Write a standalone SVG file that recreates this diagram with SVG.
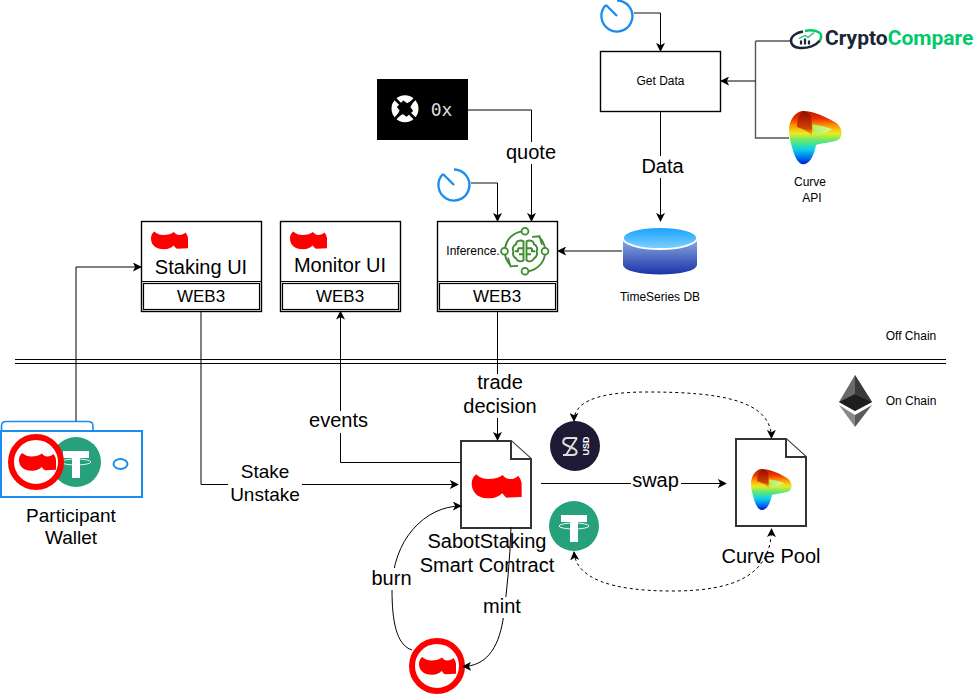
<svg xmlns="http://www.w3.org/2000/svg" width="974" height="694" viewBox="0 0 974 694">
<style>
text{font-family:"Liberation Sans",Arial,sans-serif;fill:#000;text-anchor:middle}
.s12{font-size:12px}.s19{font-size:19px}.s20{font-size:20px}.w3{font-size:17px}
.box{fill:#fff;stroke:#000;stroke-width:1.4}
.inner{fill:none;stroke:#000;stroke-width:1.2}
.doc{fill:#fff;stroke:#333;stroke-width:2}
.con{fill:none;stroke:#000;stroke-width:1;marker-end:url(#a)}
.plain{fill:none;stroke:#000;stroke-width:1}
.grey{fill:none;stroke:#555;stroke-width:1.4}
.dash{fill:none;stroke:#000;stroke-width:1;stroke-dasharray:3 3;marker-start:url(#a2);marker-end:url(#a)}
.lbl{fill:#fff;stroke:none}
.clk{fill:none;stroke:#1a8cf0;stroke-width:2.300}
.ring{fill:#fff;stroke:#f00;stroke-width:6}
</style>
<defs>
<marker id="a" viewBox="0 0 10 10" refX="9" refY="5" markerWidth="9" markerHeight="9" markerUnits="userSpaceOnUse" orient="auto"><path d="M0 0L10 5L0 10L2.500 5Z" fill="#000"/></marker>
<marker id="a2" viewBox="0 0 10 10" refX="9" refY="5" markerWidth="9" markerHeight="9" markerUnits="userSpaceOnUse" orient="auto-start-reverse"><path d="M0 0L10 5L0 10L2.500 5Z" fill="#000"/></marker>
<linearGradient id="cg" x1="0" y1="0" x2="0" y2="1"><stop offset="0" stop-color="#c01800"/><stop offset=".14" stop-color="#e83000"/><stop offset=".28" stop-color="#ff9a00"/><stop offset=".42" stop-color="#e8ec20"/><stop offset=".56" stop-color="#60e870"/><stop offset=".72" stop-color="#10d0e8"/><stop offset=".88" stop-color="#0070f0"/><stop offset="1" stop-color="#0018d0"/></linearGradient>
<linearGradient id="cg2" x1="0" y1="0" x2="1" y2="0"><stop offset="0" stop-color="#b0ee60"/><stop offset="1" stop-color="#d8f890"/></linearGradient>
<linearGradient id="cgf" x1="0" y1="0" x2="0" y2="1"><stop offset="0" stop-color="#8a0c00"/><stop offset=".7" stop-color="#c83000"/><stop offset="1" stop-color="#e86000" stop-opacity=".2"/></linearGradient>
<linearGradient id="dbTop" x1="0" y1="0" x2="0" y2="1"><stop offset="0" stop-color="#14a0ff"/><stop offset="1" stop-color="#80d2ff"/></linearGradient>
<linearGradient id="dbSide" x1="0" y1="0" x2="0" y2="1"><stop offset="0" stop-color="#90aee4"/><stop offset="1" stop-color="#1a34a8"/></linearGradient>
<path id="sabot" d="M3.200 0C6 2.500 9 3.500 12.300 3.500C17 3.500 20.500 2.500 22.900 .5C24.500 2.500 26 3.500 28.300 3.500C31 3.500 33 2.500 34.500 1C36 3 36.800 5 37 6.700L37 16.800L25.900 17.300C24.500 16.500 23.500 15 22.600 14C20 16.500 17 17.800 13.500 17.800C8 17.800 4.500 16.500 2.400 13.800C.5 11.500 0 9 0 6.400C0 4 1.500 1.500 3.200 0Z" fill="#f00"/>
<g id="curve">
<path d="M14.300 0C24 0 38 6 47.700 12.300C51 15 52.700 19 52.700 22.300C52.700 25 51 27.500 49 29C42 32 32 32 27 34C26.500 37 26 39 25 41.500C23 48 19 53.300 14.300 53.300C9 53.300 5.500 45 3.300 37.300C1.500 31 0 25 0 19C0 13 2 8.500 4.300 5.700C7 2.500 10 0 14.300 0Z" fill="url(#cg)"/>
<path d="M23 13.500C30 14 38 16 43.500 18.500C38 21.500 31 23.500 26.500 24.700C25 21 23.800 17 23 13.500Z" fill="url(#cg2)"/>
<path d="M14.300 0C18 1 20.500 2.500 22 5C23 11 23 18 23 25C20 21 15 18 8 16C8 9 10 3 14.300 0Z" fill="url(#cgf)" opacity=".85"/>
</g>
<g id="tether">
<circle r="25" fill="#26a17b"/>
<path d="M-13-11H13V-4H4V16H-4V-4H-13Z" fill="#fff"/>
<ellipse rx="15" ry="3" fill="none" stroke="#fff" stroke-width=".9"/>
</g>
<g id="clock">
<path class="clk" d="M0-15.500A15.500 15.500 0 1 1-11-11"/>
<path class="clk" d="M-11-11L0 0"/>
</g>
</defs>
<rect width="974" height="694" fill="#fff"/>

<g id="chain-divider">
<path d="M15 359.500H946M15 363.500H946" stroke="#000" stroke-width="1.200" fill="none"/>
<text class="s12" x="911" y="340">Off Chain</text>
<text class="s12" x="911" y="405">On Chain</text>
</g>

<g id="ethereum">
<path d="M855 375L839 402L855 411L872 402Z" fill="#6a6a6a"/>
<path d="M855 394L839 402L855 411L872 402Z" fill="#1e1e1e"/>
<path d="M855 375V394L872 402Z" fill="#3a3a3a"/>
<path d="M839 405L855 427L855 415Z" fill="#8a8a8a"/>
<path d="M872 405L855 427L855 415Z" fill="#5a5a5a"/>
</g>

<g id="staking-ui">
<rect class="box" x="141.500" y="221.500" width="120" height="90"/>
<path class="plain" d="M141.500 281.500H261.500"/>
<rect class="inner" x="143.500" y="283.500" width="116" height="26"/>
<use href="#sabot" x="151" y="231.500"/>
<text class="s20" x="201" y="274">Staking UI</text>
<text class="w3" x="201" y="302">WEB3</text>
</g>

<g id="monitor-ui">
<rect class="box" x="280.500" y="221.500" width="120" height="90"/>
<path class="plain" d="M280.500 281.500H400.500"/>
<rect class="inner" x="282.500" y="283.500" width="116" height="26"/>
<use href="#sabot" x="290" y="231.500"/>
<text class="s20" x="340" y="272">Monitor UI</text>
<text class="w3" x="340" y="302">WEB3</text>
</g>

<g id="inference">
<rect class="box" x="437.500" y="221.500" width="120" height="90"/>
<path class="plain" d="M437.500 281.500H557.500"/>
<rect class="inner" x="439.500" y="283.500" width="116" height="26"/>
<text class="s12" x="473" y="255">Inference.</text>
<text class="w3" x="497" y="302">WEB3</text>
<g id="brain-icon" transform="translate(525,251.300)" fill="none" stroke="#3d8c2e" stroke-width="1.800">
<path d="M-3-20A20 20 0 0 0-20-3M-20 3A20 20 0 0 0-15 13.500M3 20A20 20 0 0 0 20 3M20-3A20 20 0 0 0 15-13.500"/>
<path d="M-17 6.500L-14.500 15L-7 14.500M17-6.500L14.500-15L7-14.500"/>
<circle cy="-20" r="3.400"/><circle cy="20" r="3.400"/><circle cx="-20.500" r="3.400"/><circle cx="20" r="3.400"/>
<path d="M-1.500-10C-5-12-9-10-9-7C-12-6-13-2-11.500 0C-13 3-11 6-9 7C-8 10-4 11-1.500 9ZM1.500-10C5-12 9-10 9-7C12-6 13-2 11.500 0C13 3 11 6 9 7C8 10 4 11 1.500 9ZM-1.500-3H-7M-1.500 3H-6M-7-3V0H-10M1.500-3H7M1.500 3H6M7-3V0H10" stroke-width="1.900"/>
</g>
</g>

<g id="get-data">
<rect class="box" x="600.500" y="51.500" width="120" height="60"/>
<text class="s12" x="660.500" y="85">Get Data</text>
</g>

<g id="zerox">
<rect x="377" y="79" width="91" height="61" fill="#000"/>
<g transform="translate(405,108.700)">
<circle r="13.500" fill="#fff"/>
<path d="M-6.500-1.500L-1.500-6.500L2-4L6.500-6.500L4 -1.500L6.500 2L1.500 6.500L-2 4L-6.500 6.500L-4 1.500Z" fill="#000" stroke="#000" stroke-width="2.500"/>
<path d="M-14-14L14 14M-14 14L14-14" stroke="#000" stroke-width="2.800"/>
</g>
<text x="441.500" y="116" style="font-family:'DejaVu Sans Mono','Liberation Mono',monospace;font-size:18px;fill:#ddd">0x</text>
</g>

<g id="clock-top"><use href="#clock" x="617" y="16"/></g>
<g id="clock-inference"><use href="#clock" x="454" y="185"/></g>

<g id="cryptocompare">
<g transform="translate(806,39.500)">
<path d="M-3-8C-10-7-15-3-15 1C-15 5-12 8-6 8.500C2 9 10 6 14 1" fill="none" stroke="#1a2536" stroke-width="2.500"/>
<path d="M-1-8.500C5-10 13-9 15-5C15.500-3 15-1 14 1" fill="none" stroke="#00c96b" stroke-width="2.500"/>
<path d="M-5 5V1M-1 5V-1M3 5V1" stroke="#1a2536" stroke-width="2.200"/>
<path d="M-7-1L-1-4L2-2L8-7" fill="none" stroke="#00c96b" stroke-width="1.300"/>
</g>
<text x="825" y="45" style="font-family:Roboto,'Liberation Sans',sans-serif;font-size:21px;font-weight:700;text-anchor:start"><tspan style="fill:#1a2536">Crypto</tspan><tspan style="fill:#00c96b">Compare</tspan></text>
</g>

<g id="curve-api">
<use href="#curve" x="789" y="111"/>
<text class="s12" x="810" y="186">Curve</text>
<text class="s12" x="812" y="202">API</text>
</g>

<g id="timeseries-db">
<path d="M623 238V265A37 9.500 0 0 0 697 265V238Z" fill="url(#dbSide)"/>
<ellipse cx="660" cy="238" rx="37" ry="11" fill="url(#dbTop)" stroke="#fff" stroke-width="1.800"/>
<text class="s12" x="660" y="301">TimeSeries DB</text>
</g>

<g id="participant-wallet">
<path d="M1.500 431V426Q1.500 421.500 6 421.500H88Q93 421.500 93 426V431" fill="none" stroke="#1a8cf0" stroke-width="1.600"/>
<rect x="1" y="431" width="141" height="66" fill="#fff" stroke="#1a8cf0" stroke-width="2"/>
<ellipse cx="120.500" cy="464" rx="7" ry="5" fill="none" stroke="#1a8cf0" stroke-width="2"/>
<use href="#tether" x="76" y="462"/>
<circle class="ring" cx="36" cy="462" r="25"/>
<use href="#sabot" x="19" y="453"/>
<text class="s19" x="71" y="522">Participant</text>
<text class="s19" x="71" y="544">Wallet</text>
</g>

<g id="sabot-contract">
<path class="doc" d="M461 441H511L531 459V528H461Z"/>
<path class="doc" d="M511 441V459H531"/>
<g transform="translate(471.700,474.300) scale(1.350)"><use href="#sabot"/></g>
<text class="s20" x="487" y="548">SabotStaking</text>
<text class="s20" x="487" y="572">Smart Contract</text>
</g>

<g id="susd">
<circle cx="575" cy="446" r="25" fill="#1e1a36"/>
<path d="M577 438H567C563 438 562 443 565 444.500L574.500 449C578 451 577 455 573 455H563M577 438L566 455" fill="none" stroke="#ddd" stroke-width="2"/>
<text transform="translate(585,446) rotate(-90)" y="3.500" style="font-size:9px;font-weight:700;fill:#fff">USD</text>
</g>

<g id="usdt"><use href="#tether" x="574" y="526"/></g>

<g id="curve-pool">
<path class="doc" d="M736 439H786L806 457V526H736Z"/>
<path class="doc" d="M786 439V457H806"/>
<g transform="translate(751,469) scale(.77)"><use href="#curve"/></g>
<text class="s20" x="771" y="563">Curve Pool</text>
</g>

<g id="sabot-token">
<circle class="ring" cx="437" cy="666" r="25"/>
<use href="#sabot" x="419" y="657"/>
</g>

<g id="connectors">
<path class="con" d="M76 421V267H141"/>
<path class="con" d="M201 311V484.500H458"/>
<path class="con" d="M461 462.500H340.500V311.500"/>
<path class="con" d="M497.500 311V440"/>
<path class="con" d="M541 483.500H726"/>
<path class="grey" d="M634 13H660.500"/><path class="con" d="M660.500 13V51"/>
<path class="grey" d="M471 183H497.500"/><path class="con" d="M497.500 183V221"/>
<path class="grey" d="M468 110H531.500"/><path class="con" d="M531.500 110V221"/>
<path class="con" d="M660.500 111V221"/>
<path class="con" d="M622 251H558"/>
<path class="plain" d="M755.500 41H790"/>
<path class="grey" d="M755.500 41V138H789"/>
<path class="con" d="M755.500 81H721"/>
<path class="dash" d="M574 421C574 405 590 392 647 392C720 392 771 400 771.500 438"/>
<path class="dash" d="M574 552C576 578 610 591 672 591C735 591 771 575 771.500 529"/>
<path class="con" d="M412 650C396 645 392 620 392 590C392 540 425 506 461 506"/>
<path class="con" d="M511 527C510 560 507 590 503 620C498 650 485 666 463 666.500"/>
<g id="connector-labels">
<rect class="lbl" x="500" y="142" width="62" height="22"/><text class="s20" x="531" y="159">quote</text>
<rect class="lbl" x="638" y="156" width="50" height="22"/><text class="s20" x="662.500" y="173">Data</text>
<rect class="lbl" x="462" y="374" width="76" height="44"/><text class="s20" x="500" y="389">trade</text><text class="s20" x="500" y="413">decision</text>
<rect class="lbl" x="305" y="411" width="66" height="22"/><text class="s20" x="338.500" y="427">events</text>
<rect class="lbl" x="228" y="461" width="74" height="44"/><text class="s19" x="265" y="478">Stake</text><text class="s19" x="265" y="501">Unstake</text>
<rect class="lbl" x="631" y="472" width="50" height="20"/><text class="s20" x="655.500" y="487">swap</text>
<rect class="lbl" x="370" y="568" width="44" height="22"/><text class="s20" x="391.500" y="585">burn</text>
<rect class="lbl" x="482" y="597" width="40" height="21"/><text class="s20" x="502" y="613">mint</text>
</g>
</g>
</svg>
